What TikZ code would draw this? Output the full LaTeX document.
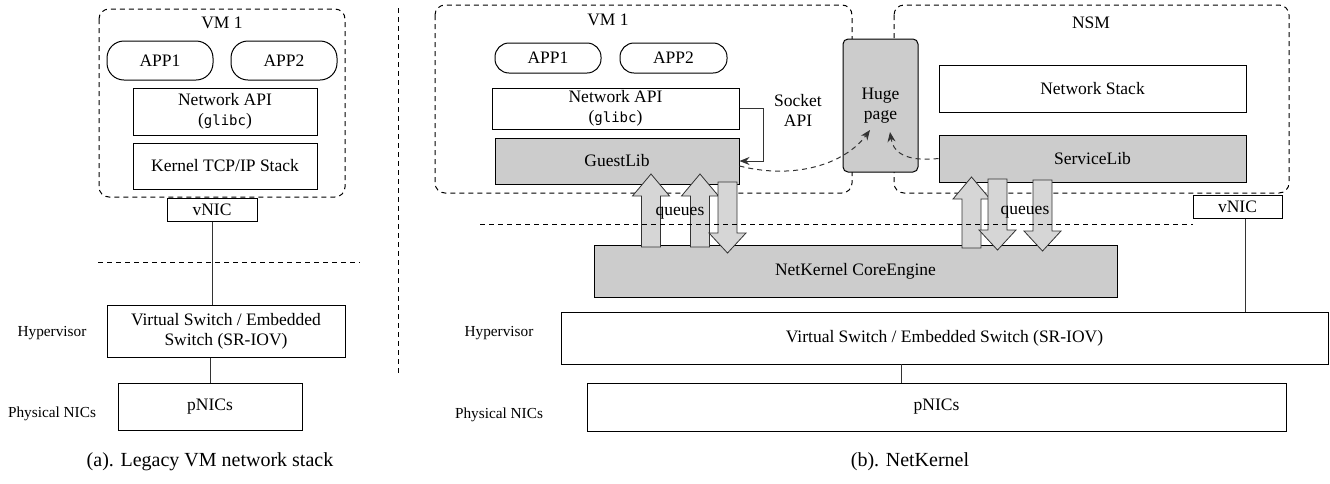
\documentclass[tikz,border=0pt]{standalone}
\usepackage{fontspec}
\setmainfont{Liberation Serif}
\setmonofont{DejaVu Sans Mono}[Scale=0.8]
\usetikzlibrary{arrows.meta}

\definecolor{boxgray}{RGB}{204,204,204}
\definecolor{qgray}{RGB}{214,214,214}

\tikzset{
	box/.style={draw, line width=1pt, inner sep=0pt, align=center, font=\fontsize{17.5}{20}\selectfont},
	graybox/.style={box, fill=boxgray},
	appbox/.style={box, rounded corners=#1},
	vmbox/.style={draw, dash pattern=on 5pt off 4pt, rounded corners=10pt, line width=1pt},
	lbl/.style={font=\fontsize{17.5}{20}\selectfont, align=center, inner sep=0pt},
	side/.style={font=\fontsize{15.3}{18}\selectfont, inner sep=0pt},
	caption/.style={font=\fontsize{20}{24}\selectfont, inner sep=0pt},
	sep/.style={dash pattern=on 5pt off 4pt, line width=1pt},
	link/.style={line width=1pt, draw=black!80},
	qarrow/.style={fill=qgray, draw=black!80, line width=0.8pt},
	tip/.style={-{Stealth[length=10pt,width=8pt]}}
}

\begin{document}
\begin{tikzpicture}[x=1pt, y=-1pt]
	\useasboundingbox (0,0) rectangle (1330,483);

	% (a) legacy stack
	\draw[vmbox] (99,9) rectangle (345,197);
	\node[lbl] (vmAtitle) at (222,23) {VM 1};
	\node[appbox=17pt, minimum width=106pt, minimum height=39pt] (appA1) at (160,60.5) {APP1};
	\node[appbox=17pt, minimum width=106pt, minimum height=39pt] (appA2) at (284,60.5) {APP2};
	\node[box, minimum width=184pt, minimum height=47pt] (netapiA) at (225,111.5) {Network API\\(\texttt{glibc})};
	\node[box, minimum width=184pt, minimum height=46pt] (kernelA) at (225,166) {Kernel TCP/IP Stack};
	\node[box, minimum width=90pt, minimum height=23pt] (vnicA) at (212,209.5) {vNIC};
	\node[box, minimum width=238pt, minimum height=52pt] (vswitchA) at (226,331) {Virtual Switch / Embedded\\Switch (SR-IOV)};
	\node[box, minimum width=184pt, minimum height=47pt] (pnicsA) at (210,406.5) {pNICs};
	\draw[link] (vnicA.south) -- (vnicA.south |- vswitchA.north);
	\draw[link] (vswitchA.south -| pnicsA.north) -- (pnicsA.north);
	\draw[sep] (98,262) -- (360,262);
	\node[side] (hypA) at (52,333) {Hypervisor};
	\node[side] (physA) at (52,414) {Physical NICs};
	\node[caption] (capA) at (210,462) {(a). Legacy VM network stack};

	% separator
	\draw[sep] (398,8) -- (398,373);

	% (b) NetKernel
	\draw[vmbox] (435,5) rectangle (852,193);
	\draw[vmbox] (894,5) rectangle (1289,193);
	\node[lbl] (vmBtitle) at (608,20) {VM 1};
	\node[lbl] (nsmtitle) at (1091,23) {NSM};
	\node[graybox, rounded corners=5pt, minimum width=75pt, minimum height=133pt] (hugepage) at (880.5,105.5) {Huge\\page};
	\node[appbox=14pt, minimum width=106pt, minimum height=30pt] (appB1) at (548,58) {APP1};
	\node[appbox=14pt, minimum width=107pt, minimum height=30pt] (appB2) at (673.5,58) {APP2};
	\node[box, minimum width=247pt, minimum height=41pt] (netapiB) at (615.5,108.5) {Network API\\(\texttt{glibc})};
	\node[graybox, minimum width=244pt, minimum height=46pt] (guestlib) at (617,161) {GuestLib};
	\node[box, minimum width=307pt, minimum height=47pt] (netstack) at (1092.5,88.5) {Network Stack};
	\node[graybox, minimum width=307pt, minimum height=47pt] (servicelib) at (1092.5,158.5) {ServiceLib};
	\node[graybox, minimum width=523pt, minimum height=52pt] (coreengine) at (855.5,271) {NetKernel CoreEngine};
	\node[box, minimum width=89pt, minimum height=23pt] (vnicB) at (1237.5,206.5) {vNIC};
	\node[box, minimum width=767pt, minimum height=52pt] (vswitchB) at (944.5,338) {Virtual Switch / Embedded Switch (SR-IOV)};
	\node[box, minimum width=699pt, minimum height=48pt] (pnicsB) at (936.5,407) {pNICs};
	\node[lbl] (socketapi) at (798,110) {Socket\\API};

	\draw[link, tip] (netapiB.east) -- ++(24,0) |- (guestlib.east);

	% queue arrows
	\foreach \cx/\ta/\tb in {651/174/247, 700/174/247, 971.5/177/248} {
		\filldraw[qarrow] (\cx-9.5,\tb) -- (\cx-9.5,\ta+22) -- (\cx-18.5,\ta+22) -- (\cx,\ta)
			-- (\cx+18.5,\ta+22) -- (\cx+9.5,\ta+22) -- (\cx+9.5,\tb) -- cycle;
	}
	\foreach \cx/\ta/\tb in {727.5/182/253, 997.5/179/250, 1042.5/180/251} {
		\filldraw[qarrow] (\cx-9.5,\ta) -- (\cx-9.5,\tb-20) -- (\cx-18.5,\tb-20) -- (\cx,\tb)
			-- (\cx+18.5,\tb-20) -- (\cx+9.5,\tb-20) -- (\cx+9.5,\ta) -- cycle;
	}
	\draw[sep] (480,224) -- (vnicB.west |- 0,224);
	\node[lbl] (queuesG) at (680,213) {queues};
	\node[lbl] (queuesS) at (1025,212) {queues};

	\draw[link] ([xshift=8pt]vnicB.south) -- ([xshift=8pt]vnicB.south |- vswitchB.north);
	\draw[link] ([xshift=-35.5pt]pnicsB.north) -- ++(0,-19);
	\node[side] (hypB) at (499,333) {Hypervisor};
	\node[side] (physB) at (499,415) {Physical NICs};
	\node[caption] (capB) at (910,462) {(b). NetKernel};

	% shared memory paths
	\coordinate (hpL) at (870,130);
	\coordinate (hpR) at (890,132);
	\draw[link, sep, tip] ([yshift=-5pt]guestlib.east) .. controls (795,180) and (845,164) .. (hpL);
	\draw[link, sep, tip] (servicelib.west) .. controls (905,162) and (893,152) .. (hpR);
\end{tikzpicture}
\end{document}
